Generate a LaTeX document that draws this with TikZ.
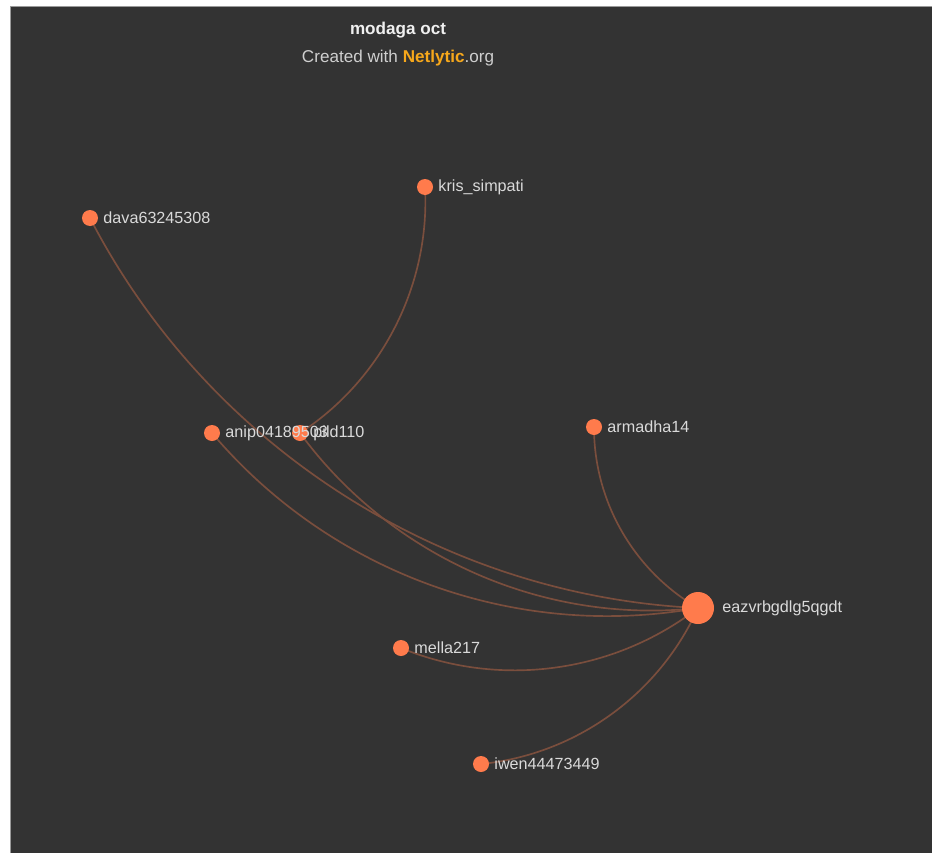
\documentclass[tikz,border=0pt]{standalone}
\usepackage{fontspec}
\setmainfont{Liberation Sans}
\usepackage{xcolor}
\usetikzlibrary{positioning}
\definecolor{canvasgray}{HTML}{333333}
\definecolor{framegray}{HTML}{9A9A9A}
\definecolor{nodecoral}{HTML}{FF7B4C}
\definecolor{linkbrown}{HTML}{7A4E3D}
\definecolor{labelgray}{HTML}{DADADA}
\definecolor{creditgray}{HTML}{CFCFCF}
\definecolor{brandgold}{HTML}{F7A81B}
\pgfdeclarelayer{linklayer}
\pgfsetlayers{linklayer,main}

\begin{document}
\begin{tikzpicture}[
    x=0.3mm, y=-0.3mm,
    user/.style = {
        circle,
        fill=nodecoral,
        minimum size=4.8mm,
        inner sep=0pt
    },
    hub/.style = {user, minimum size=9.6mm},
    tag/.style = {
        text=labelgray,
        font=\fontsize{13.8}{16}\selectfont,
        inner sep=0pt
    },
    heading/.style = {text=white!94!black, font=\fontsize{14.6}{17}\selectfont\bfseries, inner sep=0pt},
    credit/.style  = {text=creditgray, font=\fontsize{14.6}{17}\selectfont, inner sep=0pt},
    link/.style    = {draw=linkbrown, line width=0.5mm, bend left=30, looseness=0.91},
    line cap=round, line join=round
]

\useasboundingbox (0,0) rectangle (932,853);

\begin{pgfonlayer}{linklayer}
\fill[white] (0,0) rectangle (932,853);
\fill[canvasgray] (10,7) rectangle (932,853);
\draw[framegray, line width=0.3mm] (10,853) -- (10,7) -- (932,7);
\end{pgfonlayer}

% users
\node[hub]  (eazv)    at (698,608) {};
\node[user] (dava)    at (90,218)  {};
\node[user] (kris)    at (425,187) {};
\node[user] (anip)    at (212,433) {};
\node[user] (pild)    at (300,433) {};
\node[user] (armadha) at (594,427) {};
\node[user] (mella)   at (401,648) {};
\node[user] (iwen)    at (481,764) {};

% names
\node[tag, anchor=west] (eazv-name)    at ([xshift=2.4mm]eazv.east)    {eazvrbgdlg5qgdt};
\node[tag, anchor=west] (dava-name)    at ([xshift=1.5mm]dava.east)    {dava63245308};
\node[tag, anchor=west] (kris-name)    at ([xshift=1.5mm]kris.east)    {kris\_simpati};
\node[tag, anchor=west] (anip-name)    at ([xshift=1.5mm]anip.east)    {anip04189503};
\node[tag, anchor=west] (pild-name)    at ([xshift=1.5mm]pild.east)    {pild110};
\node[tag, anchor=west] (armadha-name) at ([xshift=1.5mm]armadha.east) {armadha14};
\node[tag, anchor=west] (mella-name)   at ([xshift=1.5mm]mella.east)   {mella217};
\node[tag, anchor=west] (iwen-name)    at ([xshift=1.5mm]iwen.east)    {iwen44473449};

% links
\begin{pgfonlayer}{linklayer}
\draw[link] (kris.center) to (pild.center);
\draw[link] (eazv.center) to (dava.center);
\draw[link] (eazv.center) to (anip.center);
\draw[link] (eazv.center) to (pild.center);
\draw[link] (eazv.center) to (armadha.center);
\draw[link] (eazv.center) to (mella.center);
\draw[link] (eazv.center) to (iwen.center);
\end{pgfonlayer}

% title
\node[heading] (title) at (398,30) {modaga oct};
\node[credit]  (netlytic) at (398,58) {Created with {\bfseries\color{brandgold}Netlytic}.org};

\end{tikzpicture}
\end{document}
